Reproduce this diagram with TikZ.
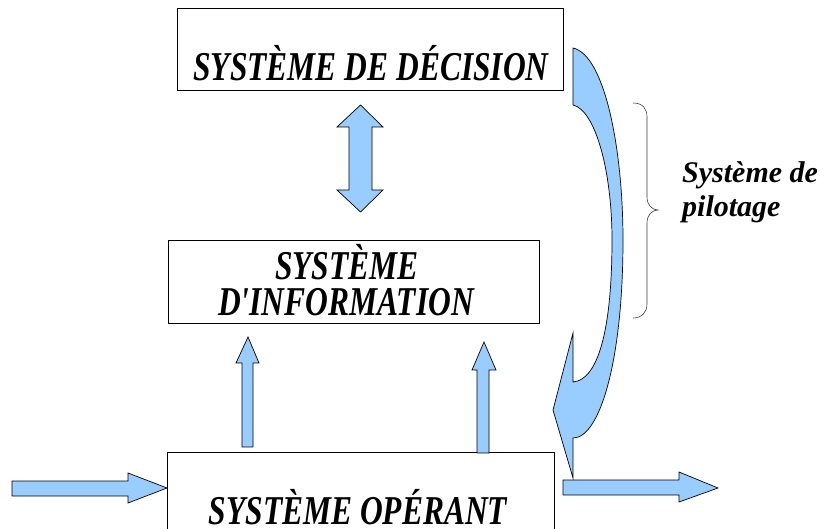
\documentclass[tikz,border=0pt]{standalone}
\usepackage{fontspec}
\setmainfont{Liberation Serif}[Ligatures=TeXOff]
\newcommand\talltext[1]{\scalebox{1}[1.3]{#1}}
\definecolor{arrowblue}{RGB}{153,204,255}
\definecolor{bracegrey}{RGB}{60,60,60}
\begin{document}
\begin{tikzpicture}[x=1pt,y=-1pt,
  box/.style={draw=black,line width=0.8pt,fill=white,inner sep=0pt,anchor=north west},
  blockarrow/.style={draw=black,fill=arrowblue,line width=0.7pt,line join=miter},
  maintext/.style={anchor=base,inner sep=0pt,font=\bfseries\itshape\fontsize{31.5}{31.5}\selectfont},
  sidetext/.style={anchor=base west,inner sep=0pt,font=\bfseries\itshape\fontsize{30}{30}\selectfont}]
\useasboundingbox (0,0) rectangle (828,529);
\clip (0,0) rectangle (828,529);

% boxes
\node[box,minimum width=386pt,minimum height=82pt] (dec) at (177,8) {};
\node[box,minimum width=371pt,minimum height=83pt] (info) at (168,240) {};
\node[box,minimum width=387pt,minimum height=90pt] (oper) at (167,452) {};

% texts
\node[maintext] (tdec) at (371,81) {\talltext{SYSTÈME DE DÉCISION}};
\node[maintext] (tinfo1) at (347,280) {\talltext{SYSTÈME}};
\node[maintext] (tinfo2) at (346,316) {\talltext{D'INFORMATION}};
\node[maintext] (toper) at (358,524) {\talltext{SYSTÈME OPÉRANT}};
\node[sidetext] (tpil1) at (682,183) {Système de};
\node[sidetext] (tpil2) at (682,217) {pilotage};

% double arrow between decision and information
\draw[blockarrow] (360.5,105) -- (383,127) -- (372,127) -- (372,190) -- (383,190)
  -- (360.5,212) -- (337,190) -- (349,190) -- (349,127) -- (337,127) -- cycle;

% up arrows from operating system to information system
\draw[blockarrow] (248,337) -- (259,363) -- (253,363) -- (253,447) -- (242,447)
  -- (242,363) -- (236,363) -- cycle;
\draw[blockarrow] (484,342) -- (496,370) -- (489,370) -- (489,453) -- (477,453)
  -- (477,370) -- (472,370) -- cycle;

% input arrow
\draw[blockarrow] (12,481) -- (128,481) -- (128,473) -- (167,488) -- (128,503)
  -- (128,496) -- (12,496) -- cycle;

% output arrow
\draw[blockarrow] (563,480) -- (679,480) -- (679,472) -- (718,488) -- (679,502)
  -- (679,495) -- (563,495) -- cycle;

% curved control arrow
\draw[blockarrow] (573,48) .. controls (605,55) and (623,150) .. (623,240)
  .. controls (623,360) and (600,438) .. (573,438) -- (573,478) -- (553,410)
  -- (573,333) -- (573,382) .. controls (598,380) and (612,330) .. (612,240)
  .. controls (612,170) and (595,110) .. (573,105) -- cycle;

% brace
\draw[bracegrey,line width=0.6pt] (633,103) .. controls (643,103) and (647,109) .. (647,117)
  -- (647,197) .. controls (647,205) and (652,210) .. (658,210)
  .. controls (652,210) and (647,215) .. (647,223) -- (647,304)
  .. controls (647,312) and (642,318) .. (633,318);
\end{tikzpicture}
\end{document}
